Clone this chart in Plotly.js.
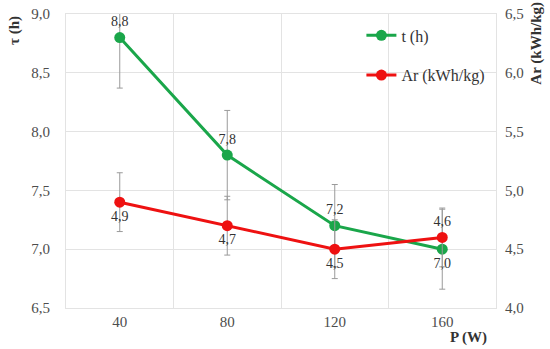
<!DOCTYPE html>
<html>
<head>
<meta charset="utf-8">
<script src="https://cdn.plot.ly/plotly-3.0.1.min.js"></script>
<style>html,body{margin:0;padding:0;background:#fff;}#chart{width:550px;height:349px;}</style>
</head>
<body>
<div id="chart"></div>
<script>
var categories = ["40", "80", "120", "160"];
var tValues = [8.8, 7.8, 7.2, 7.0];
var tErrors = [0.43, 0.38, 0.35, 0.34];
var arValues = [4.9, 4.7, 4.5, 4.6];
var arErrors = [0.25, 0.25, 0.25, 0.25];
var tTextPos = ["top center", "top center", "top center", "bottom center"];
var arTextPos = ["bottom center", "bottom center", "bottom center", "top center"];

function fmt(v){ return v.toFixed(1).replace(".", ","); }

var serif = "Liberation Serif";

var traceT = {
  x: categories, y: tValues, name: "t (h)", type: "scatter", mode: "lines+markers+text",
  legendgroup: "a",
  line: {color: "#1aa64a", width: 3}, marker: {color: "#1aa64a", size: 11},
  text: tValues.map(fmt), textposition: tTextPos,
  textfont: {family: serif, size: 14, color: "#333333"},
  error_y: {type: "data", array: tErrors, visible: true, color: "#9a9a9a", thickness: 1, width: 3},
  cliponaxis: true
};
var traceAr = {
  x: categories, y: arValues, name: "Ar (kWh/kg)", type: "scatter", mode: "lines+markers+text",
  yaxis: "y2", legendgroup: "b",
  line: {color: "#ee1111", width: 3}, marker: {color: "#ee1111", size: 11},
  text: arValues.map(fmt), textposition: arTextPos,
  textfont: {family: serif, size: 14, color: "#333333"},
  error_y: {type: "data", array: arErrors, visible: true, color: "#9a9a9a", thickness: 1, width: 3},
  cliponaxis: true
};

var layout = {
  width: 550, height: 349,
  margin: {l: 66, r: 54, t: 14, b: 41},
  paper_bgcolor: "#ffffff", plot_bgcolor: "#ffffff",
  separators: ", ",
  font: {family: serif, size: 14, color: "#4d4d4d"},
  showlegend: true,
  legend: {x: 0.687, y: 0.985, xanchor: "left", yanchor: "top", bgcolor: "rgba(0,0,0,0)",
           font: {family: serif, size: 16, color: "#333333"}, tracegroupgap: 16, traceorder: "grouped"},
  xaxis: {type: "category", range: [-0.5, 3.5], autorange: false, tickson: "boundaries", showgrid: true, gridcolor: "#e3e3e3",
          showline: true, linecolor: "#e3e3e3", mirror: true, ticks: "", ticklen: 0,
          tickfont: {family: serif, size: 15, color: "#4d4d4d"}, fixedrange: true},
  yaxis: {range: [6.5, 9.0], dtick: 0.5, tick0: 6.5, tickformat: ".1f", showgrid: true,
          gridcolor: "#e3e3e3", showline: true, linecolor: "#e3e3e3", mirror: true, zeroline: false,
          tickfont: {family: serif, size: 15, color: "#4d4d4d"}, ticks: "", ticklabelstandoff: 12},
  yaxis2: {range: [4.0, 6.5], dtick: 0.5, tick0: 4.0, tickformat: ".1f", overlaying: "y", side: "right",
           showgrid: false, zeroline: false, showline: false,
           tickfont: {family: serif, size: 15, color: "#4d4d4d"}, ticks: "", ticklabelstandoff: 8},
  annotations: [
    {text: "<b>τ (h)</b>", xref: "paper", yref: "paper", x: -0.12, y: 1.0, xanchor: "center", yanchor: "top",
     textangle: -90, showarrow: false, font: {family: serif, size: 15, color: "#333333"}},
    {text: "<b>Ar (kWh/kg)</b>", xref: "paper", yref: "paper", x: 1.095, y: 1.05, xanchor: "center", yanchor: "top",
     textangle: -90, showarrow: false, font: {family: serif, size: 15, color: "#333333"}},
    {text: "<b>P (W)</b>", xref: "paper", yref: "paper", x: 0.935, y: -0.065, xanchor: "center", yanchor: "top",
     showarrow: false, font: {family: serif, size: 15, color: "#333333"}}
  ]
};

Plotly.newPlot("chart", [traceT, traceAr], layout, {displayModeBar: false, staticPlot: true});
</script>
</body>
</html>
